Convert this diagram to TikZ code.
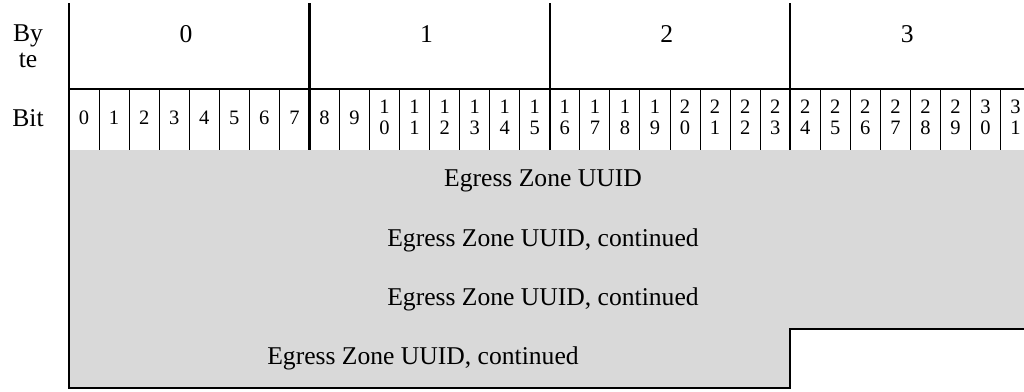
\documentclass[tikz,border=0pt]{standalone}
\usepackage{fontspec}
\setmainfont{Liberation Serif}
\definecolor{fieldgray}{RGB}{217,217,217}

\begin{document}
\begin{tikzpicture}[x=1pt, y=-1pt]
	\tikzset{thickrule/.style={line width=2.5pt}, thinrule/.style={line width=1pt},
		big/.style={font=\fontsize{25.6}{26}\selectfont, inner sep=0pt},
		bitnum/.style={font=\fontsize{20.5}{21}\selectfont, align=center, inner sep=0pt}}
	\useasboundingbox (0,0) rectangle (1024,391);

	% field area
	\fill[fieldgray] (69,150) -- (1032,150) -- (1032,329) -- (790,329) -- (790,388) -- (69,388) -- cycle;

	% header labels
	\node[big, align=center, anchor=north] (bytehead) at (28,25) {By\\te};
	\node[big, anchor=base] (bithead) at (28,126) {Bit};
	\foreach \n in {0,...,3}
		\node[big, anchor=base] (byte\n) at (186+\n*240.4,42) {\n};

	% bit numbers and thin dividers
	\foreach \b in {0,...,31} {
		\pgfmathtruncatemacro\tens{\b/10}
		\pgfmathtruncatemacro\ones{mod(\b,10)}
		\ifnum\b<10 \def\bittext{\b}\else \def\bittext{\tens\\\ones}\fi
		\node[bitnum] (bit\b) at (69+\b*30.05+15.025,117.5) {\bittext};
		\draw[thinrule] (69+\b*30.05,89) -- (69+\b*30.05,150);
	}

	% byte borders
	\foreach \n in {1,2,3}
		\draw[thickrule] (69+\n*240.4,3) -- (69+\n*240.4,150);
	\draw[thickrule] (69,89) -- (1032,89);
	\draw[thickrule] (69,3) -- (69,388) -- (790,388) -- (790,329) -- (1032,329);

	% field rows
	\node[big] (row1) at (543,181) {Egress Zone UUID};
	\node[big] (row2) at (543,240) {Egress Zone UUID, continued};
	\node[big] (row3) at (543,299) {Egress Zone UUID, continued};
	\node[big] (row4) at (423,358) {Egress Zone UUID, continued};
\end{tikzpicture}
\end{document}
